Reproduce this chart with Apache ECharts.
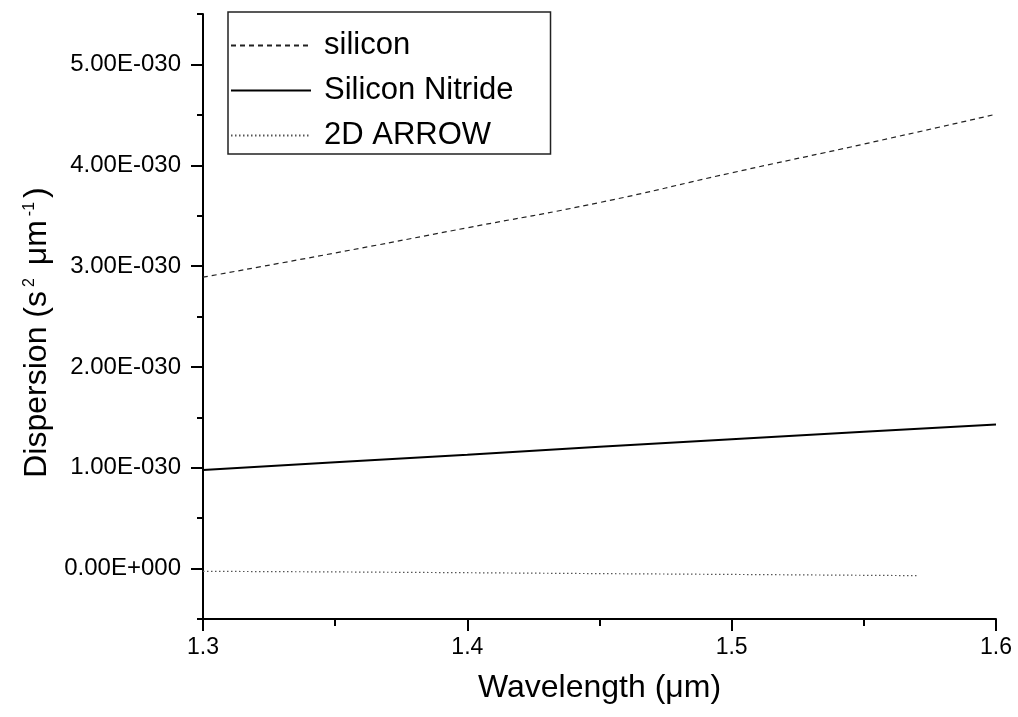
<!DOCTYPE html>
<html>
<head>
<meta charset="utf-8">
<script src="https://cdn.jsdelivr.net/npm/echarts@6/dist/echarts.min.js"></script>
<style>
html,body{margin:0;padding:0;background:#fff;}
#chart{width:1018px;height:717px;}
</style>
</head>
<body>
<div id="chart"></div>
<script>
// Values of dispersion in units of 1E-030 s^2 um^-1
const siliconX = [1.30, 1.35, 1.40, 1.45, 1.50, 1.55, 1.60];
const siliconY = [2.89, 3.13, 3.38, 3.63, 3.925, 4.21, 4.506];
const nitrideX = [1.30, 1.35, 1.40, 1.45, 1.50, 1.55, 1.60];
const nitrideY = [0.978, 1.055, 1.13, 1.209, 1.283, 1.357, 1.43];
const arrowX = [1.30, 1.35, 1.40, 1.45, 1.50, 1.57];
const arrowY = [-0.027, -0.033, -0.041, -0.05, -0.058, -0.07];
const yMajorTicks = [0, 1, 2, 3, 4, 5];
const yMinorTicks = [-0.5, 0.5, 1.5, 2.5, 3.5, 4.5, 5.5];
const seriesNames = ['silicon', 'Silicon Nitride', '2D ARROW'];

const pairs = (xs, ys) => xs.map((x, i) => [x, ys[i]]);
const FONT = '"Liberation Sans", Arial, sans-serif';
const yFmt = v => (Math.abs(v) < 1e-9 ? '0.00E+000' : v.toFixed(2) + 'E-030');

const chart = echarts.init(document.getElementById('chart'), null, {renderer: 'canvas'});
chart.setOption({
  animation: false,
  backgroundColor: '#fff',
  grid: {left: 203, right: 22, top: 14, bottom: 98, containLabel: false},
  legend: {
    orient: 'vertical',
    left: 228, top: 12,
    data: seriesNames,
    itemWidth: 80, itemHeight: 20, itemGap: 14,
    padding: [18, 37, 3, 2],
    borderColor: '#222', borderWidth: 1.5,
    itemStyle: {opacity: 0, borderWidth: 0},
    textStyle: {fontFamily: FONT, fontSize: 31, color: '#000', lineHeight: 30, padding: [0, 0, 0, 8]}
  },
  xAxis: {
    type: 'value', min: 1.3, max: 1.6, interval: 0.1,
    name: 'Wavelength (μm)', nameLocation: 'middle', nameGap: 53,
    nameTextStyle: {fontFamily: FONT, fontSize: 32, color: '#000'},
    axisLine: {show: true, onZero: false, lineStyle: {color: '#000', width: 2}},
    axisTick: {show: true, length: 12, lineStyle: {color: '#000', width: 2}},
    minorTick: {show: true, splitNumber: 2, length: 7, lineStyle: {color: '#000', width: 2}},
    axisLabel: {fontFamily: FONT, fontSize: 23, color: '#000', margin: 17, formatter: v => v.toFixed(1)},
    splitLine: {show: false}, minorSplitLine: {show: false}
  },
  yAxis: [{
    type: 'value', min: -0.5, max: 5.5, position: 'left',
    name: 'Dispersion (s{sup|2} μm{sup|-1})', nameLocation: 'middle', nameGap: 148,
    nameTextStyle: {fontFamily: FONT, fontSize: 32, color: '#000', padding: [0, 32, 0, 0],
      rich: {sup: {fontFamily: FONT, fontSize: 16, color: '#000', verticalAlign: 'top', padding: [0, 4, 16, 4]}}},
    axisLine: {show: true, onZero: false, lineStyle: {color: '#000', width: 2}},
    axisTick: {show: true, customValues: yMajorTicks, length: 12, lineStyle: {color: '#000', width: 2}},
    axisLabel: {customValues: yMajorTicks, fontFamily: FONT, fontSize: 24, color: '#000', margin: 22, formatter: yFmt},
    splitLine: {show: false}
  }, {
    type: 'value', min: -0.5, max: 5.5, position: 'left',
    axisLine: {show: false},
    axisTick: {show: true, customValues: yMinorTicks, length: 6, lineStyle: {color: '#000', width: 2}},
    axisLabel: {show: false},
    splitLine: {show: false}
  }],
  series: [{
    name: seriesNames[0], type: 'line', yAxisIndex: 0, symbol: 'none', smooth: true,
    data: pairs(siliconX, siliconY),
    lineStyle: {color: '#222', width: 1.2, type: [5, 4]},
    itemStyle: {color: '#222'}
  }, {
    name: seriesNames[1], type: 'line', yAxisIndex: 0, symbol: 'none',
    data: pairs(nitrideX, nitrideY),
    lineStyle: {color: '#000', width: 2, type: 'solid'},
    itemStyle: {color: '#000'}
  }, {
    name: seriesNames[2], type: 'line', yAxisIndex: 0, symbol: 'none',
    data: pairs(arrowX, arrowY),
    lineStyle: {color: '#555', width: 1.2, type: [1.5, 2.5]},
    itemStyle: {color: '#555'}
  }]
});
</script>
</body>
</html>
